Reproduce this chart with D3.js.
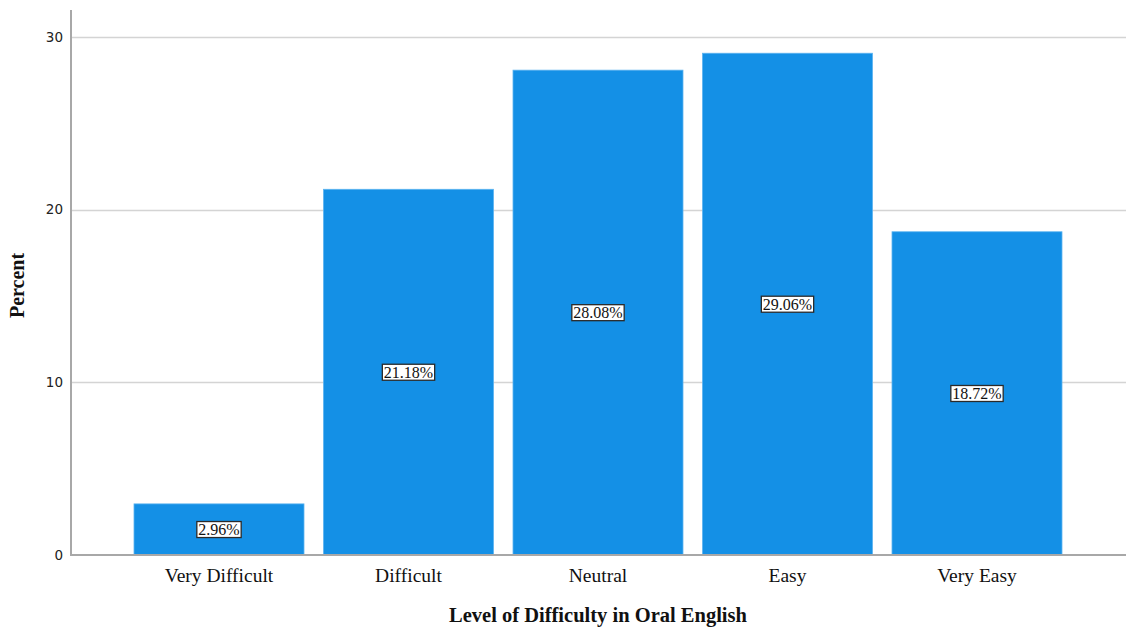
<!DOCTYPE html>
<html>
<head>
<meta charset="utf-8">
<script src="https://cdn.jsdelivr.net/npm/d3@7/dist/d3.min.js"></script>
<style>
  html, body { margin: 0; padding: 0; background: #ffffff; }
  svg { display: block; }
</style>
</head>
<body>
<svg id="chart" width="1126" height="633"></svg>
<script>
// Level of difficulty in oral English — percent of respondents
const categories = ["Very Difficult", "Difficult", "Neutral", "Easy", "Very Easy"];
const percents = [2.96, 21.18, 28.08, 29.06, 18.72];
const yTicks = [0, 10, 20, 30];

const svg = d3.select("#chart");
const plot = { left: 71, right: 1126, top: 10, bottom: 555 };

const y = d3.scaleLinear()
  .domain([0, 30])
  .range([plot.bottom, 37]);

const inner = 19.5 / 189.5;
const x = d3.scaleBand()
  .domain(categories)
  .range([124.25, 1071.75])
  .paddingInner(inner)
  .paddingOuter(inner / 2);

// horizontal gridlines
svg.append("g")
  .selectAll("line")
  .data(yTicks.filter(t => t > 0))
  .join("line")
  .attr("x1", plot.left)
  .attr("x2", plot.right)
  .attr("y1", d => Math.round(y(d)) + 0.5)
  .attr("y2", d => Math.round(y(d)) + 0.5)
  .attr("stroke", "#d4d4d4")
  .attr("stroke-width", 1.5);

// bars
svg.append("g")
  .selectAll("rect")
  .data(percents)
  .join("rect")
  .attr("x", (d, i) => x(categories[i]))
  .attr("y", d => y(d))
  .attr("width", x.bandwidth())
  .attr("height", d => plot.bottom - y(d))
  .attr("fill", "#1490e6")
  .attr("stroke", "#5cb4f0")
  .attr("stroke-width", 0.8);

// axis lines
svg.append("line")
  .attr("x1", plot.left).attr("x2", plot.left)
  .attr("y1", plot.top).attr("y2", plot.bottom + 1)
  .attr("stroke", "#a8a8a8").attr("stroke-width", 2);
svg.append("line")
  .attr("x1", plot.left - 1).attr("x2", plot.right)
  .attr("y1", plot.bottom).attr("y2", plot.bottom)
  .attr("stroke", "#a8a8a8").attr("stroke-width", 2);

// y tick labels
svg.append("g")
  .selectAll("text")
  .data(yTicks)
  .join("text")
  .attr("x", 63)
  .attr("y", d => y(d))
  .attr("dy", "0.35em")
  .attr("text-anchor", "end")
  .attr("font-family", "DejaVu Sans, sans-serif")
  .attr("font-size", 13.5)
  .attr("fill", "#222")
  .text(d => d);

// category labels
svg.append("g")
  .selectAll("text")
  .data(categories)
  .join("text")
  .attr("x", d => x(d) + x.bandwidth() / 2)
  .attr("y", 582)
  .attr("text-anchor", "middle")
  .attr("font-family", "Liberation Serif, Times New Roman, serif")
  .attr("font-size", 19.5)
  .attr("fill", "#111")
  .text(d => d);

// value labels in boxes
const labels = svg.append("g")
  .selectAll("g")
  .data(percents)
  .join("g")
  .attr("transform", (d, i) => `translate(${x(categories[i]) + x.bandwidth() / 2},${(y(d) + plot.bottom) / 2})`);

labels.append("text")
  .attr("text-anchor", "middle")
  .attr("dy", "0.35em")
  .attr("font-family", "Liberation Serif, Times New Roman, serif")
  .attr("font-size", 16)
  .attr("fill", "#111")
  .text(d => d.toFixed(2) + "%");

labels.each(function () {
  const g = d3.select(this);
  const bb = g.select("text").node().getBBox();
  g.insert("rect", "text")
    .attr("x", bb.x - 1.5)
    .attr("y", bb.y + 0.5)
    .attr("width", bb.width + 3)
    .attr("height", bb.height - 1)
    .attr("fill", "#ffffff")
    .attr("stroke", "#2a2a2a")
    .attr("stroke-width", 1.3);
});

// axis titles
svg.append("text")
  .attr("transform", `translate(24,${(plot.top + plot.bottom) / 2 + 3}) rotate(-90)`)
  .attr("text-anchor", "middle")
  .attr("font-family", "Liberation Serif, Times New Roman, serif")
  .attr("font-weight", "bold")
  .attr("font-size", 20)
  .attr("fill", "#111")
  .text("Percent");

svg.append("text")
  .attr("x", 598)
  .attr("y", 622)
  .attr("text-anchor", "middle")
  .attr("font-family", "Liberation Serif, Times New Roman, serif")
  .attr("font-weight", "bold")
  .attr("font-size", 20.5)
  .attr("fill", "#111")
  .text("Level of Difficulty in Oral English");
</script>
</body>
</html>
